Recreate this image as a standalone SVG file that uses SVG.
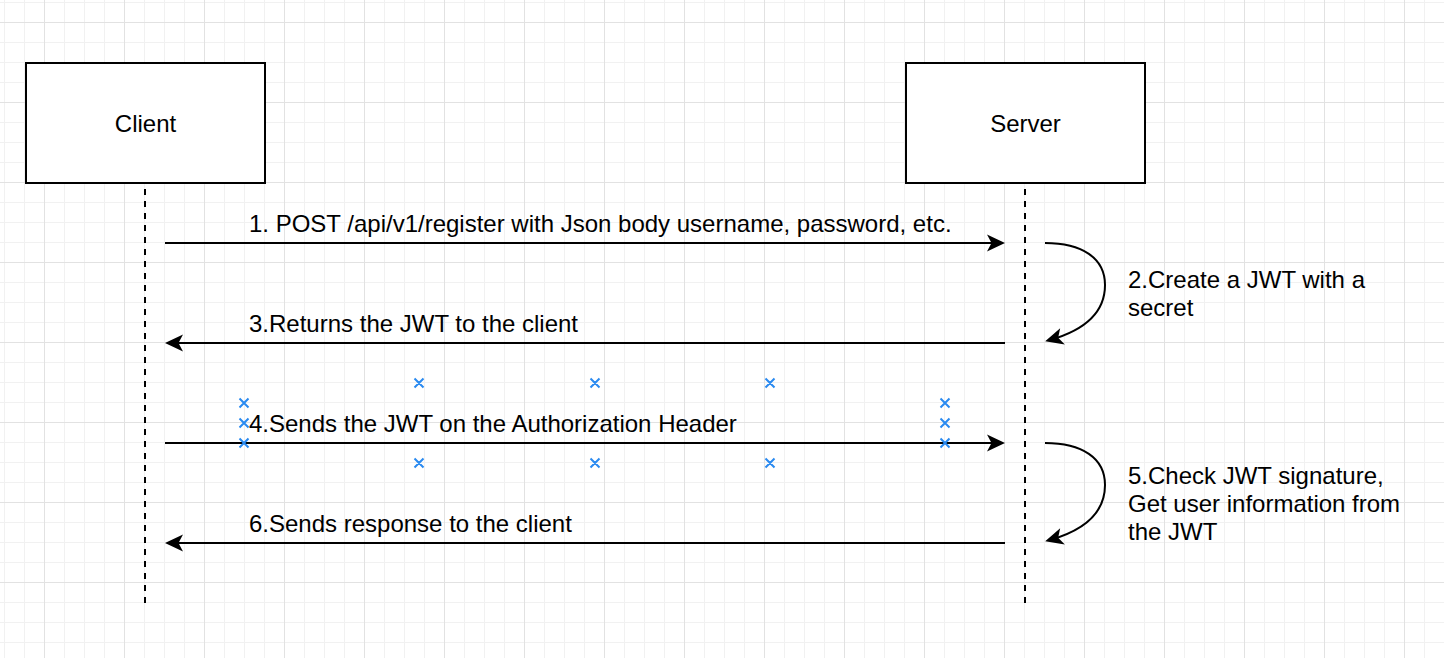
<svg xmlns="http://www.w3.org/2000/svg" width="1444" height="658" viewBox="0 0 1444 658">
  <style>
    .lbl { font-family: "Liberation Sans", Arial, Helvetica, sans-serif; font-size: 24px; fill: #000; }
    .box { fill: #fff; stroke: #000; stroke-width: 2; }
    .life { stroke: #000; stroke-width: 2; stroke-dasharray: 6 6; fill: none; }
    .msg { stroke: #000; stroke-width: 2; fill: none; marker-end: url(#arrow); }
    .hx { stroke: #2a8af0; stroke-width: 2; fill: none; }
  </style>
  <defs>
    <pattern id="grid" patternUnits="userSpaceOnUse" x="44" y="22" width="80" height="80">
      <path d="M20.5 0V80M40.5 0V80M60.5 0V80M0 20.5H80M0 40.5H80M0 60.5H80" stroke="#f1f1f1" stroke-width="1"/>
      <path d="M0.5 0V80M0 0.5H80" stroke="#e2e2e2" stroke-width="1"/>
    </pattern>
    <marker id="arrow" markerUnits="userSpaceOnUse" viewBox="-20 -10 22 20" refX="-5" refY="0" markerWidth="22" markerHeight="20" orient="auto">
      <path d="M0 0L-18 -8.5L-13.5 0L-18 8.5Z" fill="#000"/>
    </marker>
  </defs>
  <rect width="1444" height="658" fill="#fff"/>
  <rect width="1444" height="658" fill="url(#grid)"/>

  <g id="client">
    <rect class="box" x="26" y="63" width="239" height="120"/>
    <text class="lbl" x="145.5" y="132" text-anchor="middle">Client</text>
  </g>
  <g id="server">
    <rect class="box" x="906" y="63" width="239" height="120"/>
    <text class="lbl" x="1025.5" y="132" text-anchor="middle">Server</text>
  </g>

  <g id="connectors">
    <line class="life" x1="145" y1="189" x2="145" y2="603"/>
    <line class="life" x1="1025" y1="189" x2="1025" y2="603"/>
    <line class="msg" x1="165" y1="243" x2="1000" y2="243"/>
    <line class="msg" x1="1005" y1="343" x2="170" y2="343"/>
    <line class="msg" x1="165" y1="443" x2="1000" y2="443"/>
    <line class="msg" x1="1005" y1="543" x2="170" y2="543"/>
    <path class="msg" d="M1045 243C1082 243 1105 258 1105 285C1105 312 1085 330 1050 340"/>
    <path class="msg" d="M1045 443C1082 443 1105 458 1105 485C1105 512 1085 530 1050 540"/>
  </g>

  <g id="labels">
    <text class="lbl" x="249" y="232">1. POST /api/v1/register with Json body username, password, etc.</text>
    <text class="lbl" x="249" y="332">3.Returns the JWT to the client</text>
    <text class="lbl" x="249" y="432">4.Sends the JWT on the Authorization Header</text>
    <text class="lbl" x="249" y="532">6.Sends response to the client</text>
    <text class="lbl" x="1128" y="288">2.Create a JWT with a</text>
    <text class="lbl" x="1128" y="316">secret</text>
    <text class="lbl" x="1128" y="484">5.Check JWT signature,</text>
    <text class="lbl" x="1128" y="512">Get user information from</text>
    <text class="lbl" x="1128" y="540">the JWT</text>
  </g>

  <g id="handles" class="hx">
    <path d="M239.5 398.5l9 9m0-9l-9 9M239.5 418.5l9 9m0-9l-9 9M239.5 438.5l9 9m0-9l-9 9"/>
    <path d="M940.5 398.5l9 9m0-9l-9 9M940.5 418.5l9 9m0-9l-9 9M940.5 438.5l9 9m0-9l-9 9"/>
    <path d="M414.5 378.5l9 9m0-9l-9 9M590.5 378.5l9 9m0-9l-9 9M765.5 378.5l9 9m0-9l-9 9"/>
    <path d="M414.5 458.5l9 9m0-9l-9 9M590.5 458.5l9 9m0-9l-9 9M765.5 458.5l9 9m0-9l-9 9"/>
  </g>
</svg>
